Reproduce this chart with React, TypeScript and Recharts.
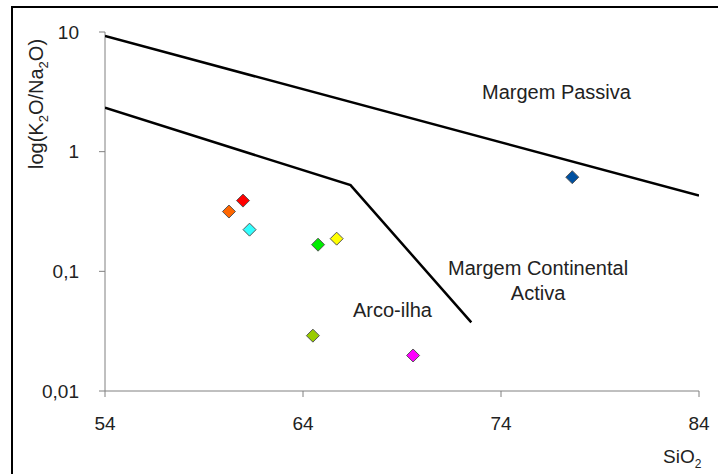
import React from "react";
import {
  ScatterChart,
  Scatter,
  XAxis,
  YAxis,
  Cell,
  ZAxis,
} from "recharts";

// sample points (SiO2, K2O/Na2O)
const sampleSiO2 = [60.97, 60.26, 61.3, 64.76, 65.7, 64.5, 69.56, 77.6];
const sampleRatio = [0.39, 0.316, 0.223, 0.167, 0.1875, 0.029, 0.0198, 0.612];
const sampleColors = [
  "#ff0000",
  "#ff6600",
  "#33ffff",
  "#00ee00",
  "#ffff00",
  "#99cc00",
  "#ff00ff",
  "#0050a0",
];

// field boundaries
const passiveX = [54, 84];
const passiveY = [9.25, 0.43];
const arcX = [54, 66.4, 72.5];
const arcY = [2.33, 0.525, 0.0375];

const xTicks = [54, 64, 74, 84];
const yTicks = [0.01, 0.1, 1, 10];

const zip = (xs: number[], ys: number[]) => xs.map((x, i) => ({ x, y: ys[i] }));

const samples = zip(sampleSiO2, sampleRatio);
const passiveLine = zip(passiveX, passiveY);
const arcLine = zip(arcX, arcY);

const FONT = "'Liberation Sans', Arial, sans-serif";

const Diamond = (props: any) => {
  const { cx, cy, fill } = props;
  const r = 6.5;
  return (
    <polygon
      points={`${cx},${cy - r} ${cx + r},${cy} ${cx},${cy + r} ${cx - r},${cy}`}
      fill={fill}
      stroke="#555"
      strokeWidth={1}
    />
  );
};

const fmt = (v: number) => String(v).replace(".", ",");

const txt: React.CSSProperties = {
  position: "absolute",
  fontSize: 20,
  lineHeight: "20px",
  color: "#222",
  whiteSpace: "nowrap",
};

export default function App() {
  return (
    <div
      style={{
        position: "relative",
        width: 718,
        height: 474,
        overflow: "hidden",
        background: "#fff",
        fontFamily: FONT,
      }}
    >
      <style>{"body{margin:0}"}</style>
      <div
        style={{
          position: "absolute",
          left: 11,
          top: 6,
          width: 720,
          height: 480,
          border: "2px solid #000",
        }}
      />
      <ScatterChart
        width={718}
        height={474}
        margin={{ top: 32, right: 19, bottom: 53, left: 45 }}
        style={{ position: "absolute", left: 0, top: 0 }}
      >
        <XAxis
          type="number"
          dataKey="x"
          domain={[54, 84]}
          ticks={xTicks}
          height={30}
          tickSize={6}
          tick={{ fontSize: 19, fill: "#222", fontFamily: FONT }}
          tickMargin={20}
          stroke="#808080"
          allowDataOverflow
        />
        <YAxis
          type="number"
          dataKey="y"
          scale="log"
          domain={[0.01, 10]}
          ticks={yTicks}
          width={60}
          tickSize={6}
          tickMargin={20}
          tickFormatter={fmt}
          tick={{ fontSize: 19, fill: "#222", fontFamily: FONT }}
          stroke="#808080"
          allowDataOverflow
        />
        <ZAxis range={[100, 100]} />
        <Scatter
          data={passiveLine}
          line={{ stroke: "#000", strokeWidth: 2.5 }}
          shape={() => <g />}
          isAnimationActive={false}
        />
        <Scatter
          data={arcLine}
          line={{ stroke: "#000", strokeWidth: 2.5 }}
          shape={() => <g />}
          isAnimationActive={false}
        />
        <Scatter data={samples} shape={Diamond} isAnimationActive={false}>
          {samples.map((_, i) => (
            <Cell key={i} fill={sampleColors[i]} />
          ))}
        </Scatter>
      </ScatterChart>

      <div style={{ ...txt, left: 482, top: 82 }}>Margem Passiva</div>
      <div
        style={{
          ...txt,
          left: 448,
          top: 256,
          lineHeight: "25px",
          textAlign: "center",
        }}
      >
        Margem Continental
        <br />
        Activa
      </div>
      <div style={{ ...txt, left: 353, top: 300 }}>Arco-ilha</div>
      <div
        style={{
          ...txt,
          left: 40,
          top: 104,
          transform: "translate(-50%, -50%) rotate(-90deg)",
        }}
      >
        log(K<sub style={{ fontSize: 13 }}>2</sub>O/Na<sub style={{ fontSize: 13 }}>2</sub>O)
      </div>
      <div style={{ ...txt, fontSize: 19, left: 663, top: 447 }}>
        SiO<sub style={{ fontSize: 12 }}>2</sub>
      </div>
    </div>
  );
}
